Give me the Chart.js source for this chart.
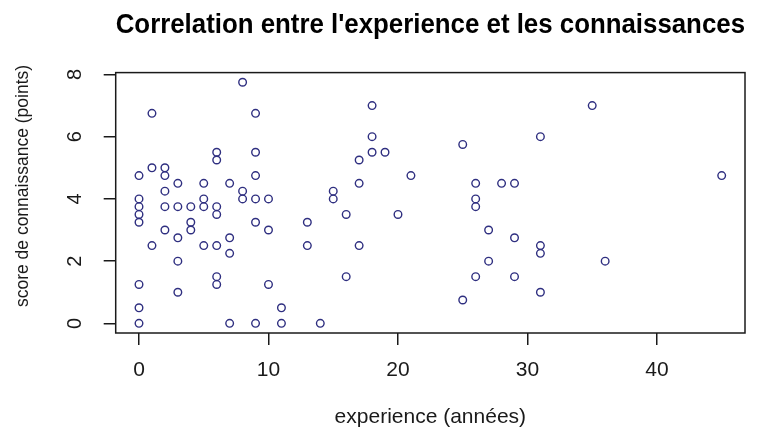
<!DOCTYPE html>
<html>
<head>
<meta charset="utf-8">
<script src="https://cdn.jsdelivr.net/npm/chart.js@4/dist/chart.umd.min.js"></script>
<style>
    body { margin: 0; background: #fff; }
</style>
</head>
<body>
<canvas id="plot" width="762" height="430"></canvas>
<script>
// --- datos ---
const experience = [
    0, 0, 0, 0, 0, 0, 0, 0,
    1, 1, 1,
    2, 2, 2, 2, 2,
    3, 3, 3, 3, 3,
    4, 4, 4,
    5, 5, 5, 5,
    6, 6, 6, 6, 6, 6, 6,
    7, 7, 7, 7,
    8, 8, 8,
    9, 9, 9, 9, 9, 9,
    10, 10, 10,
    11, 11,
    13, 13,
    14,
    15, 15,
    16, 16,
    17, 17, 17,
    18, 18, 18,
    19, 20, 21,
    25, 25,
    26, 26, 26, 26,
    27, 27,
    28,
    29, 29, 29,
    31, 31, 31, 31,
    35, 36, 45
];
const score = [
    4.75, 4, 3.75, 3.5, 3.25, 1.25, 0.5, 0,
    6.75, 5, 2.5,
    5, 4.75, 4.25, 3.75, 3,
    4.5, 3.75, 2.75, 2, 1,
    3.75, 3.25, 3,
    4.5, 4, 3.75, 2.5,
    5.5, 5.25, 3.75, 3.5, 2.5, 1.5, 1.25,
    4.5, 2.75, 2.25, 0,
    7.75, 4.25, 4,
    6.75, 5.5, 4.75, 4, 3.25, 0,
    4, 3, 1.25,
    0.5, 0,
    3.25, 2.5,
    0,
    4.25, 4,
    3.5, 1.5,
    5.25, 4.5, 2.5,
    7, 6, 5.5,
    5.5, 3.5, 4.75,
    5.75, 0.75,
    4.5, 4, 3.75, 1.5,
    3, 2,
    4.5,
    4.5, 2.75, 1.5,
    6, 2.5, 2.25, 1,
    7, 2, 4.75
];
const xTicks = [0, 10, 20, 30, 40];
const yTicks = [0, 2, 4, 6, 8];

const titleText = "Correlation entre l'experience et les connaissances";
const xLabel = "experience (années)";
const yLabel = "score de connaissance (points)";

const FONT = "'Liberation Sans', Arial, sans-serif";
const INK = "#1a1a1a";

// rango como en R (4% de margen)
const xMin = Math.min(...experience), xMax = Math.max(...experience);
const yMin = Math.min(...score), yMax = Math.max(...score);
const xPad = (xMax - xMin) * 0.04;
const yPad = (yMax - yMin) * 0.04;

// marco + textos verticales del eje y (Chart.js no gira etiquetas en y)
const framePlugin = {
    id: "frame",
    beforeDatasetsDraw(chart) {
        const { ctx, chartArea } = chart;
        ctx.save();
        ctx.strokeStyle = INK;
        ctx.lineWidth = 1.5;
        ctx.strokeRect(chartArea.left, chartArea.top,
            chartArea.right - chartArea.left, chartArea.bottom - chartArea.top);
        ctx.restore();
    },
    afterDraw(chart) {
        const { ctx } = chart;
        const yScale = chart.scales.y;
        ctx.save();
        ctx.fillStyle = INK;
        ctx.textAlign = "center";
        ctx.textBaseline = "middle";

        ctx.font = "20px " + FONT;
        yTicks.forEach(v => {
            ctx.save();
            ctx.translate(75, yScale.getPixelForValue(v));
            ctx.rotate(-Math.PI / 2);
            ctx.fillText(String(v), 0, 0);
            ctx.restore();
        });

        ctx.font = "17.5px " + FONT;
        ctx.translate(23, 186);
        ctx.rotate(-Math.PI / 2);
        ctx.fillText(yLabel, 0, 0);
        ctx.restore();
    }
};

new Chart(document.getElementById("plot"), {
    type: "scatter",
    data: {
        datasets: [{
            data: experience.map((x, i) => ({ x, y: score[i] })),
            pointStyle: "circle",
            pointRadius: 3.8,
            pointBorderWidth: 1.4,
            pointBorderColor: "#2f2f80",
            pointBackgroundColor: "rgba(0,0,0,0)",
            showLine: false
        }]
    },
    options: {
        responsive: false,
        animation: false,
        layout: { padding: { left: 0, right: 17, top: 0, bottom: 0 } },
        plugins: {
            legend: { display: false },
            tooltip: { enabled: false },
            title: {
                display: true,
                text: titleText,
                fullSize: false,
                color: "#000",
                font: { family: FONT, size: 27, weight: "bold", lineHeight: 1.2 },
                padding: { top: 9, bottom: 31.2 }
            }
        },
        scales: {
            x: {
                type: "linear",
                min: xMin - xPad,
                max: xMax + xPad,
                afterBuildTicks: s => { s.ticks = xTicks.map(v => ({ value: v })); },
                afterFit: s => { s.height = 97; },
                border: { display: false },
                grid: {
                    drawOnChartArea: false,
                    drawTicks: true,
                    tickLength: 12,
                    tickColor: INK,
                    lineWidth: 1.5
                },
                ticks: {
                    color: INK,
                    padding: 13,
                    maxRotation: 0,
                    font: { family: FONT, size: 21 }
                },
                title: {
                    display: true,
                    text: xLabel,
                    color: INK,
                    font: { family: FONT, size: 21, lineHeight: 1.2 },
                    padding: { top: 4, bottom: 0 }
                }
            },
            y: {
                type: "linear",
                min: yMin - yPad,
                max: yMax + yPad,
                afterBuildTicks: s => { s.ticks = yTicks.map(v => ({ value: v })); },
                afterFit: s => { s.width = 115.7; },
                border: { display: false },
                grid: {
                    drawOnChartArea: false,
                    drawTicks: true,
                    tickLength: 12,
                    tickColor: INK,
                    lineWidth: 1.5
                },
                ticks: { display: false }
            }
        }
    },
    plugins: [framePlugin]
});
</script>
</body>
</html>
